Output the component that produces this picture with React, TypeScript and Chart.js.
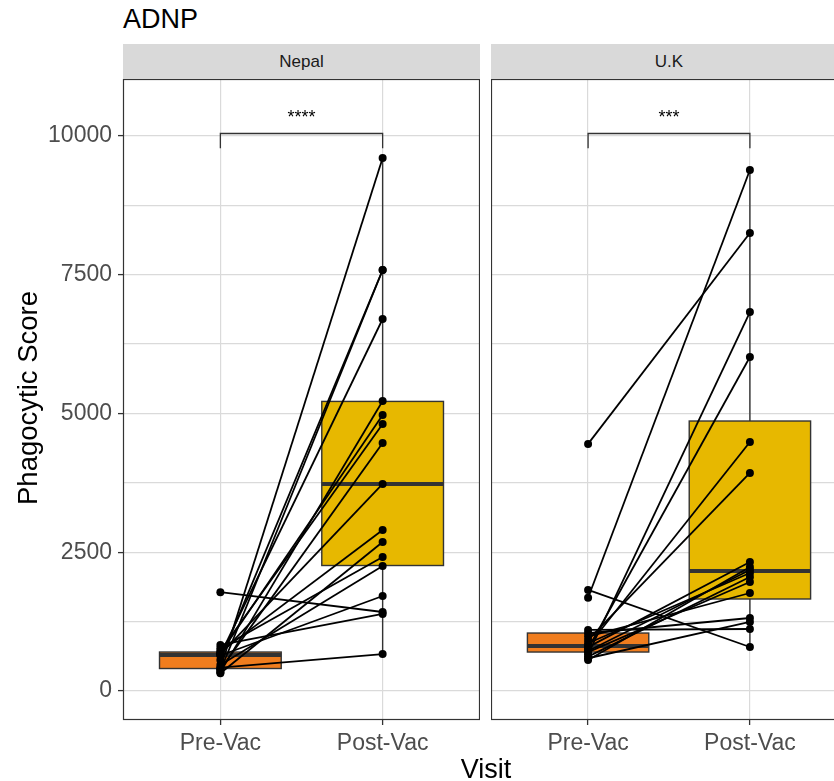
import React, { useEffect, useRef } from 'react';
import { Chart, registerables } from 'chart.js';
Chart.register(...registerables);

const title = 'ADNP';
const visits = ['Pre-Vac', 'Post-Vac'];
const panels = ['Nepal', 'U.K'];
const yTitle = 'Phagocytic Score';
const xTitle = 'Visit';
const yTickLabels = [0, 2500, 5000, 7500, 10000];
const yGridValues = [0, 1250, 2500, 3750, 5000, 6250, 7500, 8750, 10000];
const yMin = -522;
const yMax = 11021;

// paired subject values (pre -> post)
const nepalPre = [320, 340, 360, 390, 405, 420, 470, 560, 640, 650, 660, 680, 700, 720, 770, 830, 1780];
const nepalPost = [2683, 5222, 7582, 4466, 9599, 666, 2251, 7582, 1711, 6699, 3728, 4970, 2899, 4808, 2413, 1387, 1423];
const ukPre = [560, 590, 620, 660, 700, 720, 760, 790, 810, 860, 920, 980, 1040, 1100, 1680, 1820, 4450];
const ukPost = [2233, 1243, 2053, 6825, 1963, 2179, 6015, 2323, 4484, 2125, 3926, 1765, 1315, 1117, 9382, 793, 8248];

// box stats: [lower whisker, Q1, median, Q3, upper whisker]
const nepalPreBox = [324, 405, 648, 702, 830];
const nepalPostBox = [666, 2260, 3728, 5215, 9599];
const ukPreBox = [558, 702, 810, 1044, 1100];
const ukPostBox = [793, 1657, 2161, 4862, 9382];

const significance = ['****', '***'];
const bracketY = 10040;
const bracketTip = 265;

const boxColors = ['#F07D1E', '#E7B800'];
const FONT = '"Liberation Sans", Arial, "DejaVu Sans", sans-serif';

const panelData = [
  { pre: nepalPre, post: nepalPost, boxes: [nepalPreBox, nepalPostBox], sig: significance[0] },
  { pre: ukPre, post: ukPost, boxes: [ukPreBox, ukPostBox], sig: significance[1] },
];

function makeConfig(p: number): any {
  const d = panelData[p];
  const datasets: any[] = [];
  datasets.push({
    type: 'scatter',
    data: [...d.pre.map((v) => ({ x: 1, y: v })), ...d.post.map((v) => ({ x: 2, y: v }))],
    pointRadius: 4,
    pointBackgroundColor: '#000',
    pointBorderColor: '#000',
    pointBorderWidth: 0,
    showLine: false,
    order: 0,
  });
  d.pre.forEach((v, i) => {
    datasets.push({
      type: 'scatter',
      data: [{ x: 1, y: v }, { x: 2, y: d.post[i] }],
      showLine: true,
      borderColor: '#000',
      borderWidth: 1.8,
      pointRadius: 0,
      order: 1,
    });
  });

  const boxPlugin = {
    id: 'boxes' + p,
    beforeDatasetsDraw(chart: any) {
      const { ctx, scales } = chart;
      const xs = scales.x, ys = scales.y;
      d.boxes.forEach((b: number[], i: number) => {
        const cx = xs.getPixelForValue(i + 1);
        const hw = xs.getPixelForValue(i + 1 + 0.375) - cx;
        const [lo, q1, med, q3, hi] = b.map((v) => ys.getPixelForValue(v));
        ctx.save();
        ctx.strokeStyle = '#333333';
        ctx.lineWidth = 1.4;
        ctx.beginPath();
        ctx.moveTo(cx, q3); ctx.lineTo(cx, hi);
        ctx.moveTo(cx, q1); ctx.lineTo(cx, lo);
        ctx.stroke();
        ctx.fillStyle = boxColors[i];
        ctx.fillRect(cx - hw, q3, 2 * hw, q1 - q3);
        ctx.strokeRect(cx - hw, q3, 2 * hw, q1 - q3);
        ctx.lineWidth = 4;
        ctx.beginPath();
        ctx.moveTo(cx - hw, med); ctx.lineTo(cx + hw, med);
        ctx.stroke();
        ctx.restore();
      });
    },
    afterDatasetsDraw(chart: any) {
      const { ctx, scales, chartArea } = chart;
      const xs = scales.x, ys = scales.y;
      const x1 = xs.getPixelForValue(1), x2 = xs.getPixelForValue(2);
      const by = ys.getPixelForValue(bracketY);
      const bt = ys.getPixelForValue(bracketY - bracketTip);
      ctx.save();
      ctx.strokeStyle = '#333333';
      ctx.lineWidth = 1.3;
      ctx.beginPath();
      ctx.moveTo(x1, bt); ctx.lineTo(x1, by); ctx.lineTo(x2, by); ctx.lineTo(x2, bt);
      ctx.stroke();
      ctx.fillStyle = '#000';
      ctx.font = `18px ${FONT}`;
      ctx.textAlign = 'center';
      ctx.textBaseline = 'alphabetic';
      ctx.fillText(d.sig, (x1 + x2) / 2, by - 10);
      ctx.strokeStyle = '#333333';
      ctx.lineWidth = 1.2;
      ctx.strokeRect(chartArea.left + 0.5, chartArea.top + 0.5, chartArea.right - chartArea.left - 1, chartArea.bottom - chartArea.top - 1);
      ctx.restore();
    },
  };

  return {
    type: 'scatter',
    data: { datasets },
    plugins: [boxPlugin],
    options: {
      animation: false,
      responsive: false,
      events: [],
      layout: { padding: 0, autoPadding: false },
      plugins: { legend: { display: false }, tooltip: { enabled: false }, title: { display: false } },
      scales: {
        x: {
          type: 'linear',
          min: 0.4,
          max: 2.6,
          afterBuildTicks: (s: any) => { s.ticks = visits.map((_, i) => ({ value: i + 1 })); },
          afterFit: (s: any) => { s.height = 61; s.paddingLeft = 0; s.paddingRight = 0; },
          ticks: {
            autoSkip: false,
            maxRotation: 0,
            padding: 5,
            color: '#4D4D4D',
            font: { size: 23, family: FONT },
            callback: (v: number) => visits[Math.round(v) - 1] ?? '',
          },
          grid: { color: '#DADADA', lineWidth: 1.2, tickLength: 5, tickColor: '#333333', tickWidth: 1.3 },
          border: { display: false },
        },
        y: {
          type: 'linear',
          min: yMin,
          max: yMax,
          afterBuildTicks: (s: any) => { s.ticks = yGridValues.map((v) => ({ value: v })); },
          afterFit: (s: any) => { s.width = p === 0 ? 123 : 0; s.paddingTop = 0; s.paddingBottom = 0; },
          ticks: {
            display: p === 0,
            autoSkip: false,
            padding: 6,
            color: '#4D4D4D',
            font: { size: 23, family: FONT },
            callback: (v: number) => (yTickLabels.includes(v) ? String(v) : ''),
          },
          grid: {
            color: '#DADADA',
            lineWidth: 1.2,
            drawTicks: p === 0,
            tickLength: 5,
            tickWidth: 1.3,
            tickColor: (ctx: any) => (yTickLabels.includes(ctx.tick?.value) ? '#333333' : 'rgba(0,0,0,0)'),
          },
          border: { display: false },
        },
      },
    },
  };
}

function Panel({ p, left, width }: { p: number; left: number; width: number }) {
  const ref = useRef<HTMLCanvasElement>(null);
  useEffect(() => {
    const chart = new Chart(ref.current as HTMLCanvasElement, makeConfig(p));
    return () => chart.destroy();
  }, [p]);
  return (
    <canvas
      ref={ref}
      width={width}
      height={702}
      style={{ position: 'absolute', left, top: 79, width, height: 702 }}
    />
  );
}

export default function App() {
  const stripStyle = (left: number, width: number): React.CSSProperties => ({
    position: 'absolute', left, top: 44, width, height: 35, background: '#D9D9D9',
    color: '#1A1A1A', fontSize: 17, fontFamily: FONT, display: 'flex', alignItems: 'center', justifyContent: 'center',
  });
  return (
    <div style={{ position: 'fixed', left: 0, top: 0, width: 834, height: 781, overflow: 'hidden', background: '#fff', fontFamily: FONT }}>
      <div style={{ position: 'absolute', left: 123, top: 6, fontSize: 27, lineHeight: '27px', color: '#000' }}>{title}</div>
      <div style={stripStyle(123, 357)}>{panels[0]}</div>
      <div style={stripStyle(491, 356)}>{panels[1]}</div>
      <Panel p={0} left={0} width={480} />
      <Panel p={1} left={491} width={356} />
      <div style={{ position: 'absolute', left: 28, top: 398, transform: 'translate(-50%, -50%) rotate(-90deg)', whiteSpace: 'nowrap', fontSize: 27.5, lineHeight: '28px', color: '#000' }}>{yTitle}</div>
      <div style={{ position: 'absolute', left: 486, top: 756, transform: 'translateX(-50%)', whiteSpace: 'nowrap', fontSize: 27, lineHeight: '27px', color: '#000' }}>{xTitle}</div>
    </div>
  );
}
